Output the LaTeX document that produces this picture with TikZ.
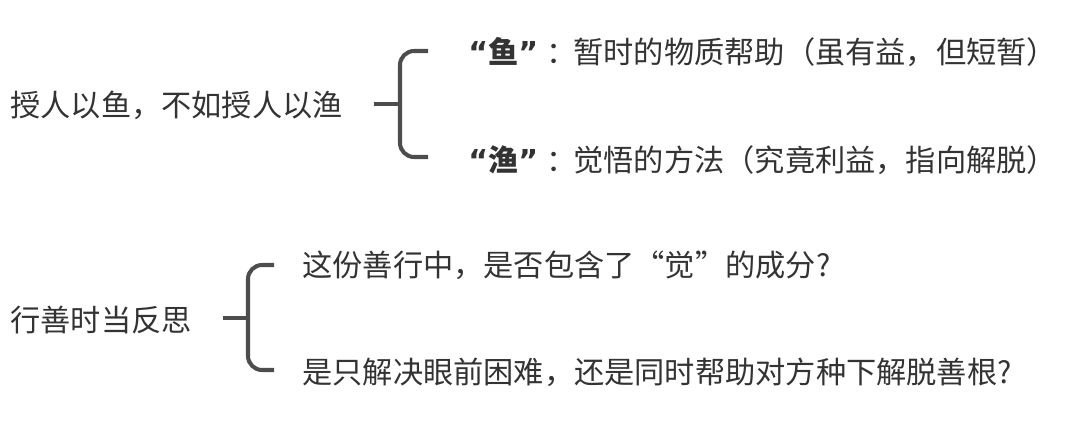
\documentclass[tikz,border=0pt]{standalone}
\usepackage{fontspec}
\setmainfont{Noto Sans CJK SC}
\newfontfamily\quotefont{DejaVu Sans}[BoldFont=DejaVu Sans Bold]
\usetikzlibrary{positioning}
\definecolor{txtgray}{HTML}{333333}
\definecolor{linegray}{HTML}{4D4D4D}
\newcommand{\fishword}[1]{\textbf{{\quotefont\bfseries“}#1{\quotefont\bfseries”}}\hspace{0.16cm}：\hspace{-0.06cm}}

\begin{document}
\begin{tikzpicture}[x=0.02cm,y=-0.02cm,
    topic/.style={anchor=west,inner sep=0pt,text=txtgray,
      font=\fontsize{17.2}{20}\selectfont},
    brace/.style={draw=linegray,line width=2.3pt,rounded corners=8pt}]
    \useasboundingbox (0,0) rectangle (1080,423);
    % first group
    \node[topic] (fishroot) at (10,105) {授人以鱼，不如授人以渔};
    \node[topic] (fishgift) at (468,52) {\fishword{鱼}暂时的物质帮助（虽有益，但短暂）};
    \node[topic] (fishway) at (468,160) {\fishword{渔}觉悟的方法（究竟利益，指向解脱）};
    \coordinate (fishtick) at (374,104);
    \coordinate (fishjoin) at (400,104);
    \draw[brace] (fishtick) -- (fishjoin);
    \draw[brace] (428,51) -| (fishjoin) |- (428,157);
    % second group
    \node[topic] (goodroot) at (10,320) {行善时当反思};
    \node[topic] (goodask) at (302,265) {这份善行中，是否包含了“觉”的成分?};
    \node[topic] (goodseed) at (302,372) {是只解决眼前困难，还是同时帮助对方种下解脱善根?};
    \coordinate (goodtick) at (223,318);
    \coordinate (goodjoin) at (248,318);
    \draw[brace] (goodtick) -- (goodjoin);
    \draw[brace] (274,265) -| (goodjoin) |- (274,370);
\end{tikzpicture}
\end{document}
